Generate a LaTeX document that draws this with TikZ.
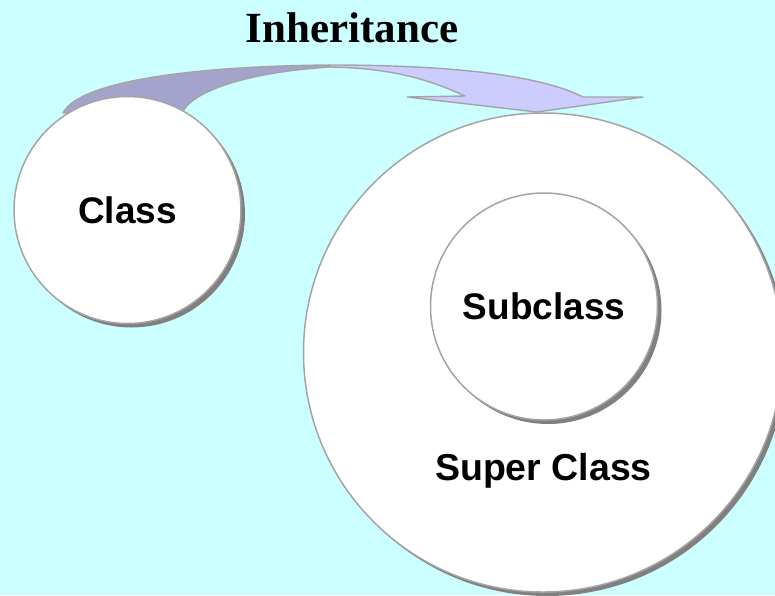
\documentclass[tikz,border=0pt]{standalone}
\usepackage{fontspec}
\setmainfont{Liberation Serif}
\setsansfont{Liberation Sans}
\usetikzlibrary{shadows}
\definecolor{bgcyan}{HTML}{CCFFFF}
\definecolor{ribbondark}{HTML}{A3A3CC}
\definecolor{ribbonlight}{HTML}{CCCCFF}
\definecolor{edgegray}{HTML}{A4A4A4}
\definecolor{shadowgray}{HTML}{808080}
\tikzset{
  ring/.style={circle, draw=edgegray, line width=1.5pt, fill=white, inner sep=0pt,
    drop shadow={shadow xshift=4pt, shadow yshift=-4pt, fill=shadowgray, opacity=1},
    font=\sffamily\bfseries\fontsize{37}{40}\selectfont},
  ribbon/.style={draw=edgegray, line width=1.4pt, line join=round},
  label/.style={font=\sffamily\bfseries\fontsize{37.5}{40}\selectfont, anchor=base},
}
\begin{document}
\begin{tikzpicture}[x=1pt, y=-1pt]
  % page and background
  \useasboundingbox (0,0) rectangle (775,595);
  \clip (0,0) rectangle (775,595);
  \fill[bgcyan] (0,0) rectangle (775,595);

  % title
  \node[anchor=base, font=\rmfamily\bfseries\fontsize{43}{46}\selectfont] (title) at (352,42) {Inheritance};

  % outer circle (super class) and the class inside it
  \node[ring, minimum size=479pt] (super) at (543,352.5) {};
  \node[label] (superlbl) at (543.5,480) {Super Class};
  \node[ring, minimum size=227pt] (sub) at (544,306.5) {Subclass};

  % curved inheritance arrow: darker underside, then the lighter face with its head
  \filldraw[ribbon, fill=ribbondark]
    (63,113) .. controls (80,80) and (200,66) .. (330,65)
    -- (330,67) .. controls (250,72) and (195,90) .. (183,111) -- cycle;
  \coordinate (tip) at (537,112);
  \filldraw[ribbon, fill=ribbonlight]
    (330,65) .. controls (450,65) and (540,75) .. (583,97)
    -- (643,97) -- (tip) -- (407,97) -- (465,96)
    .. controls (420,75) and (380,68) .. (330,67) -- cycle;

  % the base class
  \node[ring, minimum size=227pt] (class) at (127.5,210) {Class};
\end{tikzpicture}
\end{document}
